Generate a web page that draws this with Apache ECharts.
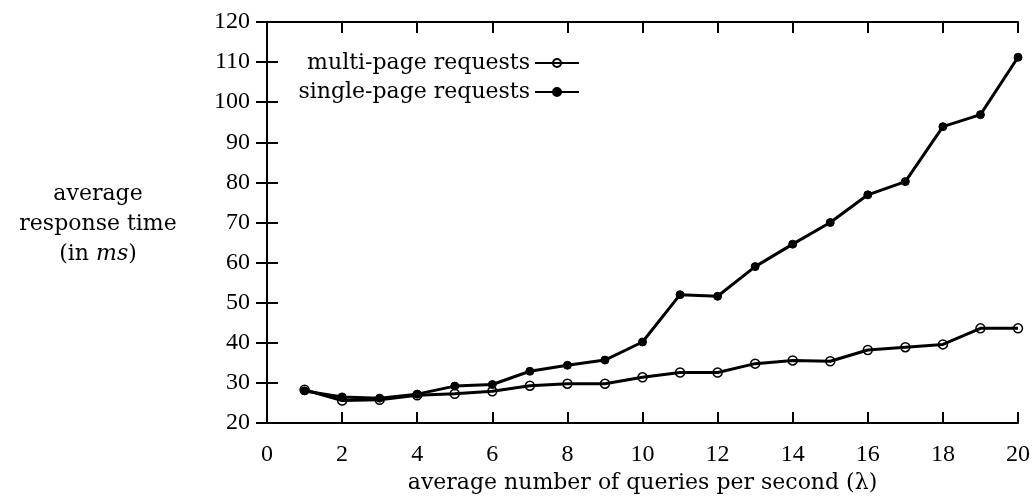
<!DOCTYPE html>
<html>
<head>
<meta charset="utf-8">
<script src="https://cdn.jsdelivr.net/npm/echarts@6/dist/echarts.min.js"></script>
<style>html,body{margin:0;padding:0;background:#fff;}#c{width:1033px;height:497px;}</style>
</head>
<body>
<div id="c"></div>
<script>
var xValues = [1,2,3,4,5,6,7,8,9,10,11,12,13,14,15,16,17,18,19,20];
var multiPage = [28.3,25.6,25.8,26.9,27.3,27.9,29.3,29.8,29.8,31.4,32.6,32.6,34.8,35.6,35.4,38.2,38.9,39.6,43.6,43.6];
var singlePage = [28.0,26.5,26.2,27.2,29.2,29.6,32.9,34.4,35.7,40.2,52.0,51.6,59.0,64.6,70.0,76.9,80.2,93.9,96.9,111.2];
var seriesNames = ['multi-page requests','single-page requests'];
var xAxisTitle = 'average number of queries per second (λ)';

var FONT = 'DejaVu Serif';
var NUMFONT = 'Liberation Serif';
function pairs(ys){ return xValues.map(function(x,i){ return [x, ys[i]]; }); }

var chart = echarts.init(document.getElementById('c'));
var axisLine = {show:true, lineStyle:{color:'#000', width:2}};
var ticks = {show:true, inside:true, length:11, lineStyle:{color:'#000', width:2}};
chart.setOption({
  animation:false,
  backgroundColor:'#fff',
  title:{
    text:'average\nresponse time\n(in {i|ms})',
    left:93, top:174, textAlign:'center',
    textStyle:{fontFamily:FONT, fontSize:22, fontWeight:'normal', color:'#000', lineHeight:30,
      rich:{i:{fontFamily:FONT, fontSize:22, fontStyle:'italic', color:'#000'}}}
  },
  grid:{left:267, right:15, top:22, bottom:74, containLabel:false, outerBoundsMode:'none'},
  legend:{
    right:448, top:47, orient:'vertical', align:'right', itemGap:7,
    itemWidth:44, itemHeight:10,
    textStyle:{fontFamily:FONT, fontSize:22, color:'#000'},
    data:seriesNames
  },
  xAxis:[{
    type:'value', min:0, max:20, interval:2,
    axisLine:axisLine, axisTick:ticks, splitLine:{show:false},
    axisLabel:{fontFamily:NUMFONT, fontSize:24, color:'#000', margin:20},
    name:xAxisTitle, nameLocation:'middle', nameGap:49,
    nameTextStyle:{fontFamily:FONT, fontSize:22, color:'#000'}
  },{
    type:'value', min:0, max:20, interval:2, position:'top',
    axisLine:axisLine, axisTick:ticks, axisLabel:{show:false}, splitLine:{show:false}
  }],
  yAxis:[{
    type:'value', min:20, max:120, interval:10,
    axisLine:axisLine, axisTick:ticks, splitLine:{show:false},
    axisLabel:{fontFamily:NUMFONT, fontSize:24, color:'#000', margin:17}
  },{
    type:'value', min:20, max:120, interval:10, position:'right',
    axisLine:axisLine, axisTick:ticks, axisLabel:{show:false}, splitLine:{show:false}
  }],
  series:[{
    name:seriesNames[0], type:'line', data:pairs(multiPage),
    symbol:'circle', symbolSize:9,
    lineStyle:{color:'#000', width:3},
    itemStyle:{color:'rgba(255,255,255,0)', borderColor:'#000', borderWidth:1.5}
  },{
    name:seriesNames[1], type:'line', data:pairs(singlePage),
    symbol:'circle', symbolSize:8,
    lineStyle:{color:'#000', width:3},
    itemStyle:{color:'#000', borderColor:'#000', borderWidth:1}
  }]
});
</script>
</body>
</html>
